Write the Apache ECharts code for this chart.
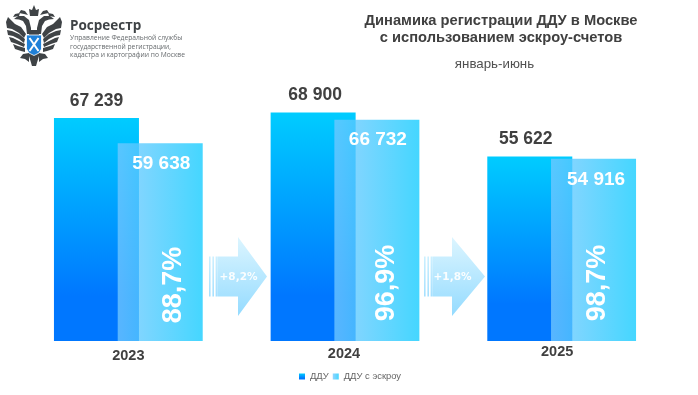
<!DOCTYPE html>
<html><head><meta charset="utf-8">
<style>html,body{margin:0;padding:0;background:#fff}#c{width:698px;height:395px}</style>
<script src="https://cdn.jsdelivr.net/npm/echarts@6/dist/echarts.min.js"></script></head>
<body><div id="c"></div>
<script>
const categories = ['2023','2024','2025'];
const dduValues = [67239,68900,55622];
const escrowValues = [59638,66732,54916];
const escrowShares = ['88,7%','96,9%','98,7%'];
const growthLabels = ['+8,2%','+1,8%'];
const seriesNames = ['ДДУ','ДДУ с эскроу'];
const titleLines = 'Динамика регистрации ДДУ в Москве\nс использованием эскроу-счетов';
const subtitle = 'январь-июнь';
const orgName = 'Росреестр';
const orgLines = ['Управление Федеральной службы','государственной регистрации,','кадастра и картографии по Москве'];

const FONT = '"Liberation Sans", Arial, sans-serif';
const fmt = v => String(v).replace(/(\d)(?=(\d{3})$)/, '$1 ');
const grid = {left:20, right:28, top:90, bottom:54};
const ymax = (395-90-54)/3.317*1000;

const chart = echarts.init(document.getElementById('c'), null, {renderer:'canvas'});

function arrow(x0, bodyX, headX, tipX, label){
  const y=276.5, g=new echarts.graphic.LinearGradient(0,0,0,1,[{offset:0,color:'#dcf5ff'},{offset:1,color:'#94dbff'}]);
  const s=new echarts.graphic.LinearGradient(0,0,0,1,[{offset:0,color:'#cdf0ff'},{offset:1,color:'#a5e0ff'}]);
  const out=[];
  [[0,1.6],[3.4,1.6],[6.6,2.2]].forEach(r=>out.push({type:'rect',shape:{x:x0+r[0],y:y-20,width:r[1],height:40},style:{fill:s},silent:true}));
  out.push({type:'polygon',shape:{points:[[bodyX,y-20],[headX,y-20],[headX,y-39.5],[tipX,y],[headX,y+39.5],[headX,y+20],[bodyX,y+20]]},style:{fill:g},silent:true});
  out.push({type:'text',x:headX+0.5,y:y+1,style:{text:label,fill:'#fff',font:'bold 10.5px "DejaVu Sans", sans-serif',align:'center',verticalAlign:'middle',opacity:.92},silent:true});
  return out;
}
function logo(){
  const out=[], c=34, dark='#3f4346';
  const sym=(pts,fill)=>{[1,-1].forEach(k=>out.push({type:'polygon',shape:{points:pts.map(p=>[c+k*p[0],p[1]])},style:{fill:fill||dark},silent:true}));};
  sym([[8,34],[13,27],[19,24],[26,17],[28,22],[27,28],[22,29],[15,33],[10,38]]);
  sym([[9,39],[15,34],[22,31],[27,30],[26,35],[21,36],[15,39],[10,43]]);
  sym([[9,44],[15,41],[21,38],[25,37],[23,42],[17,44],[10,47]]);
  sym([[9,48],[16,46],[21,44],[19,49],[13,51],[9,52]]);
  sym([[5,53],[11,54],[14,58],[9,59],[5,62]]);
  sym([[3,28],[5,20],[10,16],[16,16],[20,19],[15,19.5],[11,21],[8,26],[7,34],[3,34]]);
  sym([[15,16],[21,17],[19,14],[14,13]]);
  sym([[6,15],[9,11],[13,10],[15,13],[10,14]]);
  out.push({type:'polygon',shape:{points:[[c-4,16],[c-5,9],[c-2,10],[c,5],[c+2,10],[c+5,9],[c+4,16]]},style:{fill:dark},silent:true});
  out.push({type:'polygon',shape:{points:[[c-5,30],[c+5,30],[c+5,56],[c+2,66],[c-2,66],[c-5,56]]},style:{fill:dark},silent:true});
  out.push({type:'polygon',shape:{points:[[c-7.5,35],[c+7.5,35],[c+7.5,49],[c+5,53],[c,55.5],[c-5,53],[c-7.5,49]]},style:{fill:'#1f80d8',stroke:'#fff',lineWidth:.8},silent:true});
  out.push({type:'polyline',shape:{points:[[c-4.5,38],[c+4.5,51]]},style:{stroke:'#fff',lineWidth:2,fill:null},silent:true});
  out.push({type:'polyline',shape:{points:[[c+4.5,38],[c-4.5,51]]},style:{stroke:'#fff',lineWidth:2,fill:null},silent:true});
  return out;
}

const graphicEls = [
  ...logo(),
  {type:'text',x:70,y:26,style:{text:orgName,fill:'#3f4346',font:'bold 13.5px "Open Sans", '+FONT,verticalAlign:'middle'},silent:true},
  ...orgLines.map((t,i)=>({type:'text',x:70,y:38+i*8.6,style:{text:t,fill:'#666a6d',font:'6.7px "Open Sans", '+FONT,verticalAlign:'middle'},silent:true})),
  ...arrow(209,218,238,267,growthLabels[0]),
  ...arrow(424,433,452,485,growthLabels[1])
];

const dduGrad = new echarts.graphic.LinearGradient(0,0,0,1,[{offset:0,color:'#00ccff'},{offset:.8,color:'#0077ff'},{offset:1,color:'#0077ff'}]);
const escrowGrad = new echarts.graphic.LinearGradient(0,0,1,0,[{offset:0,color:'rgba(115,200,255,.77)'},{offset:1,color:'rgba(13,202,255,.77)'}]);
const dduOffsets = [[0,1],[2,1],[-4,1]];
const escrowOffsets = [[1,0],[1,0],[2.5,0]];
const shareOffsets = [[45,2],[41.5,0],[36,0]];
const yearLineHeights = [18,14,10];
const yearPads = [[0,0,0,0],[0,2,0,0],[0,9,0,0]];

chart.setOption({
  animation:false,
  backgroundColor:'#fff',
  textStyle:{fontFamily:FONT},
  title:[
    {text:titleLines,left:496,top:7,textAlign:'center',textStyle:{fontFamily:FONT,fontSize:14.7,fontWeight:'bold',color:'#404040',lineHeight:17}},
    {text:subtitle,left:489.5,top:53,textAlign:'center',textStyle:{fontFamily:FONT,fontSize:13.3,fontWeight:'normal',color:'#505050'}}
  ],
  legend:{data:seriesNames,left:294,top:367,itemWidth:6,itemHeight:6,itemGap:4,icon:'rect',
    textStyle:{fontFamily:FONT,fontSize:9.4,color:'#666'}},
  grid:grid,
  xAxis:{type:'category',data:categories.map((v,i)=>({value:v,textStyle:{lineHeight:yearLineHeights[i],padding:yearPads[i]}})),
    axisLine:{show:false},axisTick:{show:false},
    axisLabel:{margin:6,fontFamily:FONT,fontSize:14.5,fontWeight:'bold',color:'#404040',lineHeight:16}},
  yAxis:{type:'value',min:0,max:ymax,show:false,splitLine:{show:false}},
  series:[
    {name:seriesNames[0],type:'bar',barWidth:85,barGap:'-25%',
     data:dduValues.map((v,i)=>({value:v,label:{offset:dduOffsets[i]}})),
     itemStyle:{color:dduGrad},z:2,
     label:{show:true,position:'top',distance:9,formatter:p=>fmt(p.value),fontFamily:FONT,fontSize:17.5,fontWeight:'bold',color:'#404040'}},
    {name:seriesNames[1],type:'bar',barWidth:85,
     data:escrowValues.map((v,i)=>({value:v,label:{offset:escrowOffsets[i]}})),
     itemStyle:{color:escrowGrad},z:3,
     label:{show:true,position:'insideTop',distance:11,formatter:p=>fmt(p.value),fontFamily:FONT,fontSize:19,fontWeight:'bold',color:'#fff'}},
    {type:'custom',z:5,silent:true,coordinateSystem:'cartesian2d',data:escrowShares.map((s,i)=>[i,17500,s]),
     renderItem:(params,api)=>{
       const p=api.coord([api.value(0),api.value(1)]), o=shareOffsets[params.dataIndex];
       return {type:'text',x:p[0]+o[0],y:p[1]+o[1],rotation:Math.PI/2,
         style:{text:escrowShares[params.dataIndex],fill:'#fff',font:'bold 27px '+FONT,align:'center',verticalAlign:'middle'}};
     }}
  ],
  graphic:graphicEls
});
</script></body></html>
